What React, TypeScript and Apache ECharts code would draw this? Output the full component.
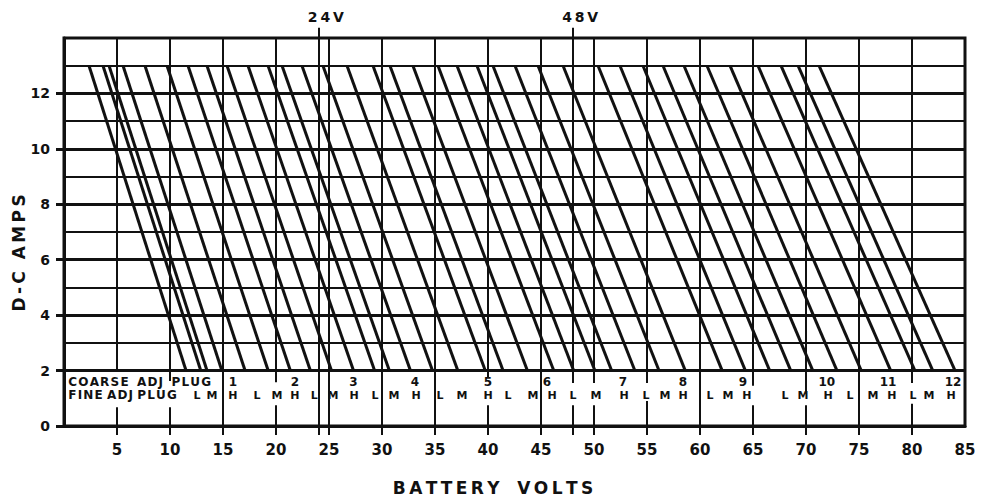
import { useEffect, useRef } from "react";
import * as echarts from "echarts";

// ---- axes ----
const X_MIN = 0;
const X_MAX = 85;
const Y_MIN = 0;
const Y_MAX = 14;
const xLabelValues = [5, 10, 15, 20, 25, 30, 35, 40, 45, 50, 55, 60, 65, 70, 75, 80, 85];
const xTickValues = [5, 10, 15, 20, 24, 25, 30, 35, 40, 45, 48, 50, 55, 60, 65, 70, 75, 80];
const yLabelValues = [0, 2, 4, 6, 8, 10, 12];

// ---- grid ----
const majorAmpLines = [2, 4, 6, 8, 10, 12];
const minorAmpLines = [3, 5, 7, 9, 11, 13];
const voltGridLines = [5, 10, 15, 20, 25, 30, 35, 40, 45, 50, 55, 60, 65, 70, 75, 80];
const markerVolts = [24, 48];
const markerTexts = ["24V", "48V"];
const markerTopAmp = 14.37;
// segments of the vertical rules inside the plug-table strip: [volts, fromAmp, toAmp]
const tableRules: [number, number, number][] = [
  [5, 0, 0.68], [10, 0, 0.68], [10, 1.62, 2], [15, 0, 2], [20, 0, 0.75], [20, 1.58, 2],
  [24, 0, 2], [25, 0, 2], [30, 0, 2], [35, 0, 2], [40, 0, 0.75], [40, 1.75, 2], [45, 0, 2],
  [48, 0, 0.75], [48, 1.55, 2], [50, 0, 0.75], [50, 1.55, 2], [55, 0, 0.9], [55, 1.55, 2],
  [60, 0, 2], [65, 0, 0.75], [65, 1.45, 2], [70, 0, 0.75], [70, 1.25, 2], [75, 0, 2],
  [80, 0, 0.8], [80, 1.55, 2],
];

// ---- characteristic lines (volts at 13 A and at 2 A) ----
const lineTopAmp = 13;
const lineBottomAmp = 2;
const lineTopVolts = [
  2.36, 3.68, 4.25, 5.57, 7.64, 9.72, 11.7, 13.49, 15.38, 17.36, 19.25, 20.57,
  22.45, 24.43, 26.7, 29.15, 30.75, 32.92, 35.28, 37.08, 38.96, 40.47, 42.55, 44.72,
  47.08, 50.38, 52.45, 54.62, 56.51, 58.49, 60.66, 62.83, 65.47, 67.64, 69.25, 71.23,
];
const lineBottomVolts = [
  11.51, 12.9, 13.49, 14.89, 17.08, 19.26, 21.35, 23.24, 25.23, 27.31, 29.3, 30.69,
  32.68, 34.76, 37.15, 39.74, 41.42, 43.71, 46.2, 48.08, 50.08, 51.66, 53.85, 56.13,
  58.61, 62.09, 64.28, 66.57, 68.56, 70.64, 72.92, 75.21, 77.99, 80.27, 81.96, 84.06,
];

// ---- plug table ----
const fineAmp = 1.11;
const coarseAmp = 1.58;
const fineLetters = [
  "L", "M", "H", "L", "M", "H", "L", "M", "H", "L", "M", "H",
  "L", "M", "H", "L", "M", "H", "L", "M", "H", "L", "M", "H",
  "L", "M", "H", "L", "M", "H", "L", "M", "H", "L", "M", "H",
];
const fineVolts = [
  12.55, 13.96, 15.94, 18.21, 20.09, 21.79, 23.6, 25.38, 27.36, 29.34, 31.13, 33.21,
  35.47, 37.55, 40.0, 41.89, 44.25, 46.04, 48.02, 50.19, 52.83, 54.91, 56.7, 58.4,
  60.94, 62.64, 64.43, 68.02, 69.72, 72.08, 74.15, 76.32, 78.11, 80.09, 81.6, 83.68,
];
const coarseTexts = ["1", "2", "3", "4", "5", "6", "7", "8", "9", "10", "11", "12"];
const coarseVolts = [15.94, 21.79, 27.3, 33.11, 40.0, 45.57, 52.74, 58.4, 64.06, 71.96, 77.74, 83.87];
const tableHeadVolts = 0.4;
const coarseHead = "COARSE ADJ PLUG";
const fineHead = "FINE ADJ PLUG";

const xTitle = "BATTERY VOLTS";
const yTitle = "D-C AMPS";

const INK = "#111111";
const FONT = "'DejaVu Sans', 'Liberation Sans', sans-serif";

const spaced = (s: string, sep: string, wordSep: string) =>
  s.split(" ").map((w) => w.split("").join(sep)).join(wordSep);

export default function App() {
  const ref = useRef<HTMLDivElement>(null);

  useEffect(() => {
    if (!ref.current) return;
    const chart = echarts.init(ref.current, null, { renderer: "svg" });

    const seg = (x1: number, y1: number, x2: number, y2: number, w: number) => ({
      coords: [[x1, y1], [x2, y2]],
      lineStyle: { width: w, color: INK, opacity: 1 },
    });

    const gridData = [
      ...majorAmpLines.map((a) => seg(X_MIN, a, X_MAX, a, 3)),
      ...minorAmpLines.map((a) => seg(X_MIN, a, X_MAX, a, 2)),
      ...voltGridLines.map((v) => seg(v, 2, v, Y_MAX, 2)),
      ...tableRules.map(([v, a, b]) => seg(v, a, v, b, 2)),
      ...markerVolts.map((v) => seg(v, 2, v, markerTopAmp, 2)),
    ];
    const curveData = lineTopVolts.map((t, i) =>
      seg(t, lineTopAmp, lineBottomVolts[i], lineBottomAmp, 3)
    );

    const textSeries = (
      data: (number | string)[][],
      fontSize: number,
      align: string = "center"
    ) => ({
      type: "scatter",
      data,
      symbol: "rect",
      symbolSize: 1,
      itemStyle: { color: "rgba(255,255,255,0)" },
      silent: true,
      clip: false,
      z: 10,
      label: {
        show: true,
        position: [0.5, 0.5],
        align,
        verticalAlign: "middle",
        formatter: (p: any) => String(p.data[2]),
        color: INK,
        opacity: 1,
        textBorderWidth: 0,
        fontFamily: FONT,
        fontWeight: "bold",
        fontSize,
      },
    });

    const option: any = {
      animation: false,
      backgroundColor: "#ffffff",
      grid: {
        left: 64,
        right: 17,
        top: 38,
        bottom: 72,
        show: true,
        borderColor: INK,
        borderWidth: 3,
        outerBoundsMode: "none",
      },
      xAxis: {
        type: "value",
        min: X_MIN,
        max: X_MAX,
        interval: 5,
        axisLine: { show: true, lineStyle: { color: INK, width: 3 } },
        axisTick: {
          show: true,
          customValues: xTickValues,
          length: 9,
          lineStyle: { color: INK, width: 2 },
        },
        axisLabel: {
          customValues: xLabelValues,
          margin: 16,
          color: INK,
          fontFamily: FONT,
          fontWeight: "bold",
          fontSize: 15,
        },
        splitLine: { show: false },
      },
      yAxis: {
        type: "value",
        min: Y_MIN,
        max: Y_MAX,
        interval: 2,
        axisLine: { show: true, lineStyle: { color: INK, width: 3 } },
        axisTick: {
          show: true,
          customValues: yLabelValues,
          length: 8,
          lineStyle: { color: INK, width: 3 },
        },
        axisLabel: {
          customValues: yLabelValues,
          margin: 14,
          color: INK,
          fontFamily: FONT,
          fontWeight: "bold",
          fontSize: 14,
        },
        splitLine: { show: false },
      },
      graphic: [
        {
          type: "text",
          x: 493,
          y: 488,
          style: {
            text: spaced(xTitle, "\u2009", "   "),
            fill: INK,
            fontFamily: FONT,
            fontWeight: "bold",
            fontSize: 17,
            align: "center",
            verticalAlign: "middle",
          },
        },
        {
          type: "text",
          x: 19,
          y: 253,
          rotation: Math.PI / 2,
          style: {
            text: spaced(yTitle, "\u2009", "  "),
            fill: INK,
            fontFamily: FONT,
            fontWeight: "bold",
            fontSize: 17,
            align: "center",
            verticalAlign: "middle",
          },
        },
      ],
      series: [
        {
          type: "lines",
          coordinateSystem: "cartesian2d",
          polyline: false,
          silent: true,
          clip: false,
          z: 3,
          lineStyle: { color: INK, width: 2, opacity: 1 },
          data: gridData,
        },
        {
          type: "lines",
          coordinateSystem: "cartesian2d",
          polyline: false,
          silent: true,
          clip: false,
          z: 4,
          lineStyle: { color: INK, width: 3, opacity: 1 },
          data: curveData,
        },
        textSeries(fineVolts.map((v, i) => [v, fineAmp, fineLetters[i]]), 11),
        textSeries(coarseVolts.map((v, i) => [v, coarseAmp, coarseTexts[i]]), 12),
        textSeries(
          [
            [tableHeadVolts, coarseAmp, spaced(coarseHead, "\u200A", "  ")],
            [tableHeadVolts, fineAmp, spaced(fineHead, "\u200A", " ")],
          ],
          12,
          "left"
        ),
        textSeries(
          markerVolts.map((v, i) => [v + 0.7, 14.77, spaced(markerTexts[i], "\u2009", " ")]),
          14
        ),
      ],
    };

    chart.setOption(option);
    return () => chart.dispose();
  }, []);

  return (
    <div
      ref={ref}
      style={{ position: "absolute", left: 0, top: 0, width: 982, height: 498, background: "#fff" }}
    />
  );
}
